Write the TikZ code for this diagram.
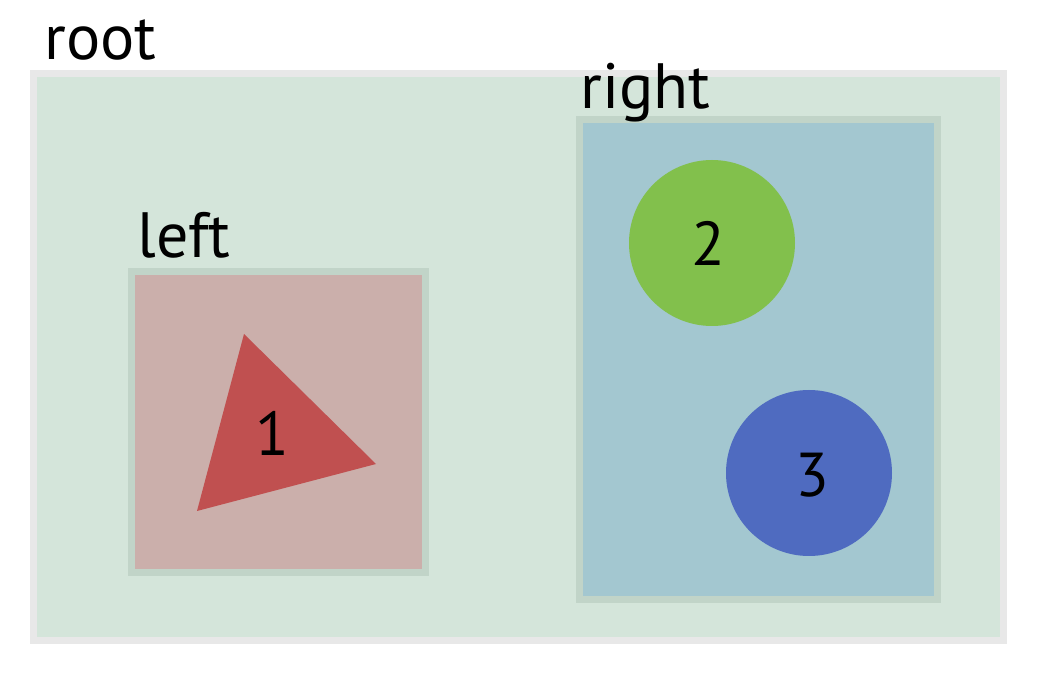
\documentclass[tikz,border=0pt]{standalone}
\usepackage{fontspec}
\setmainfont{PT Sans}
\usepackage{tikz}
\usetikzlibrary{positioning}
\definecolor{rootline}{HTML}{E8E8E8}
\definecolor{rootfill}{HTML}{D4E5DA}
\definecolor{boxline}{HTML}{C1D4C8}
\definecolor{leftfill}{HTML}{CBAFAB}
\definecolor{rightfill}{HTML}{A3C7D0}
\definecolor{trired}{HTML}{C05050}
\definecolor{dotgreen}{HTML}{82C04C}
\definecolor{dotblue}{HTML}{4F6BC0}
\begin{document}
\begin{tikzpicture}[x=0.5pt,y=-0.5pt,
        tag/.style={anchor=base west,inner sep=0pt,font=\fontsize{32}{38}\selectfont},
        num/.style={inner sep=0pt,font=\fontsize{31}{37}\selectfont}]
        \useasboundingbox (0,0) rectangle (1057,695);
        % containers
        \draw[rootline,line width=3.5pt,fill=rootfill] (33.5,73.5) rectangle (1003,641);
        \node[tag] (root) at (44,60) {root};
        \draw[boxline,line width=3.5pt,fill=leftfill] (131.5,271.5) rectangle (425.5,572.5);
        \node[tag] (left) at (137,258) {left};
        \draw[boxline,line width=3.5pt,fill=rightfill] (579.5,119.5) rectangle (937.5,599.5);
        \node[tag] (right) at (580,109) {right};
        % items
        \fill[trired] (244,334) -- (376,464) -- (197,511) -- cycle;
        \node[num] (one) at (272,433) {1};
        \fill[dotgreen] (712,243) circle[radius=83];
        \node[num] (two) at (708,243) {2};
        \fill[dotblue] (809,473) circle[radius=83];
        \node[num] (three) at (812,475) {3};
    \end{tikzpicture}
\end{document}
